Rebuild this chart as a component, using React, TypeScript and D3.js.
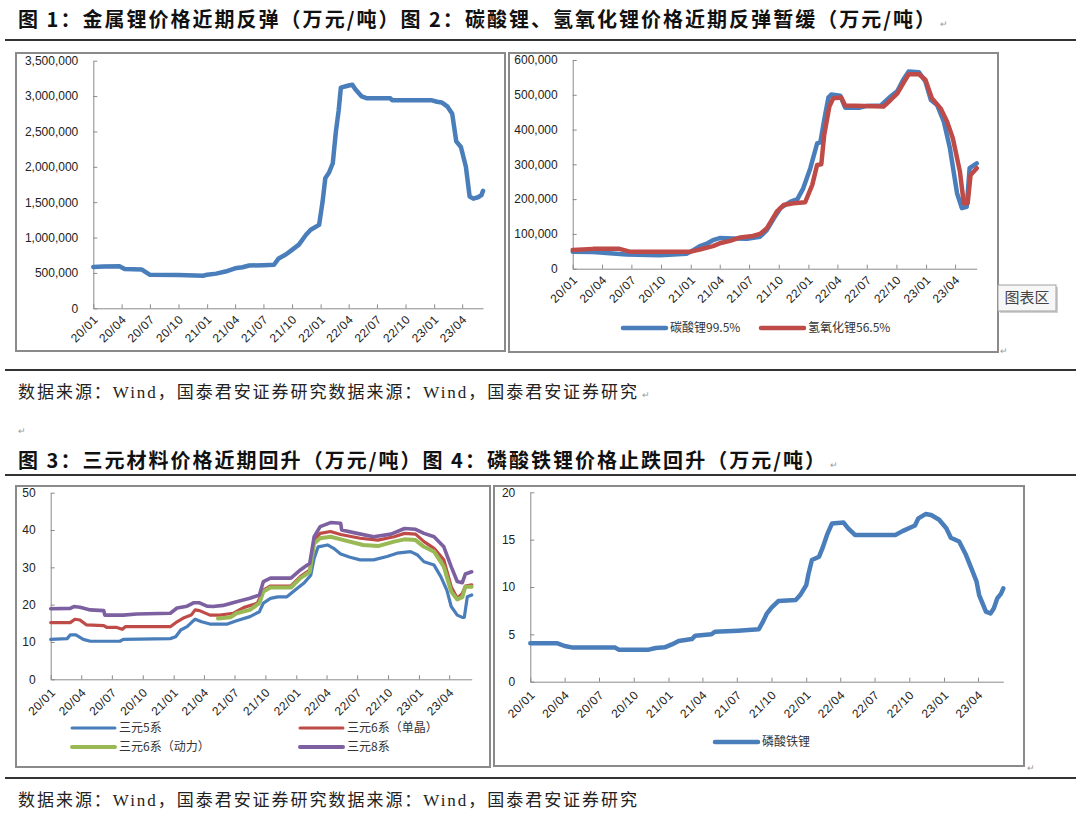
import { useEffect, useRef } from "react";
import * as d3 from "d3";

// shared time span of all four panels
const START = "2020-01-01";
const END = "2023-06-07";

// 图1 金属锂 (元/吨)
const LI_METAL: [string, number][] = [
  ["2020-01-01", 585000], ["2020-02-02", 590000], ["2020-03-25", 595000], ["2020-04-11", 555000],
  ["2020-06-04", 550000], ["2020-06-30", 475000], ["2020-10-01", 470000], ["2020-12-19", 460000],
  ["2021-01-01", 475000], ["2021-01-30", 490000], ["2021-03-01", 520000], ["2021-04-01", 565000],
  ["2021-04-25", 580000], ["2021-05-16", 605000], ["2021-07-01", 610000], ["2021-08-04", 615000],
  ["2021-08-19", 705000], ["2021-09-11", 760000], ["2021-10-02", 830000], ["2021-10-23", 900000],
  ["2021-11-15", 1040000], ["2021-11-30", 1110000], ["2021-12-27", 1180000], ["2022-01-07", 1500000],
  ["2022-01-16", 1840000], ["2022-01-28", 1920000], ["2022-02-09", 2050000], ["2022-02-19", 2500000],
  ["2022-02-28", 2800000], ["2022-03-07", 3120000], ["2022-04-01", 3150000], ["2022-04-13", 3160000],
  ["2022-04-22", 3100000], ["2022-05-13", 2995000], ["2022-05-28", 2970000], ["2022-08-13", 2970000],
  ["2022-08-19", 2940000], ["2022-12-25", 2940000], ["2023-01-10", 2920000], ["2023-01-25", 2910000],
  ["2023-02-13", 2850000], ["2023-02-28", 2750000], ["2023-03-13", 2360000], ["2023-03-28", 2280000],
  ["2023-04-13", 2000000], ["2023-04-25", 1580000], ["2023-05-07", 1550000], ["2023-05-22", 1570000],
  ["2023-06-02", 1600000], ["2023-06-07", 1660000],
];

// 图2 碳酸锂99.5% / 氢氧化锂56.5% (元/吨)
const LI_CARBONATE: [string, number][] = [
  ["2020-01-01", 49000], ["2020-03-04", 48000], ["2020-06-16", 41000], ["2020-09-28", 39000],
  ["2020-12-19", 43000], ["2021-01-10", 54000], ["2021-02-01", 66000], ["2021-02-22", 73000],
  ["2021-03-11", 82000], ["2021-04-01", 88000], ["2021-05-13", 87000], ["2021-06-25", 86000],
  ["2021-08-04", 92000], ["2021-08-25", 111000], ["2021-09-16", 145000], ["2021-10-07", 175000],
  ["2021-11-07", 193000], ["2021-11-28", 200000], ["2021-12-16", 231000], ["2022-01-07", 289000],
  ["2022-01-28", 360000], ["2022-02-07", 363000], ["2022-02-19", 428000], ["2022-03-04", 492000],
  ["2022-03-13", 501000], ["2022-04-10", 497000], ["2022-04-25", 463000], ["2022-06-10", 463000],
  ["2022-07-01", 468000], ["2022-08-13", 469000], ["2022-09-13", 495000], ["2022-10-04", 511000],
  ["2022-10-22", 543000], ["2022-11-08", 567000], ["2022-12-10", 565000], ["2022-12-30", 538000],
  ["2023-01-16", 485000], ["2023-02-04", 471000], ["2023-02-25", 423000], ["2023-03-16", 346000],
  ["2023-04-07", 217000], ["2023-04-22", 174000], ["2023-05-07", 178000], ["2023-05-16", 289000],
  ["2023-06-07", 303000],
];
const LI_HYDROXIDE: [string, number][] = [
  ["2020-01-01", 54000], ["2020-03-04", 57000], ["2020-05-25", 57000], ["2020-06-26", 49000],
  ["2021-01-01", 49000], ["2021-02-01", 56000], ["2021-03-11", 65000], ["2021-04-01", 73000],
  ["2021-05-03", 80000], ["2021-06-04", 90000], ["2021-07-13", 94000], ["2021-08-04", 100000],
  ["2021-08-25", 116000], ["2021-09-25", 164000], ["2021-10-16", 183000], ["2021-11-16", 188000],
  ["2021-12-22", 191000], ["2022-01-13", 241000], ["2022-01-28", 298000], ["2022-02-10", 300000],
  ["2022-02-19", 384000], ["2022-03-07", 466000], ["2022-03-19", 490000], ["2022-04-13", 492000],
  ["2022-04-25", 469000], ["2022-08-22", 466000], ["2022-09-13", 485000], ["2022-10-04", 504000],
  ["2022-10-22", 533000], ["2022-11-08", 559000], ["2022-12-10", 559000], ["2022-12-30", 543000],
  ["2023-01-19", 490000], ["2023-02-15", 461000], ["2023-03-07", 423000], ["2023-03-25", 375000],
  ["2023-04-16", 279000], ["2023-04-28", 188000], ["2023-05-10", 188000], ["2023-05-19", 269000],
  ["2023-06-07", 289000],
];

// 图3 三元材料 (万元/吨)
const NCM5: [string, number][] = [
  ["2020-01-01", 10.7], ["2020-02-19", 10.9], ["2020-02-28", 11.9], ["2020-03-16", 11.9],
  ["2020-04-07", 10.7], ["2020-04-28", 10.2], ["2020-07-25", 10.2], ["2020-08-04", 10.7],
  ["2020-12-22", 10.9], ["2021-01-07", 11.4], ["2021-01-22", 13.2], ["2021-02-10", 14.1],
  ["2021-02-25", 15.4], ["2021-03-06", 16.1], ["2021-03-25", 15.4], ["2021-04-19", 14.8],
  ["2021-06-10", 14.8], ["2021-07-07", 15.7], ["2021-08-16", 16.8], ["2021-09-13", 18.1],
  ["2021-09-25", 20.4], ["2021-10-16", 21.7], ["2021-11-07", 22.1], ["2021-12-04", 22.1],
  ["2022-01-04", 24.4], ["2022-01-25", 25.9], ["2022-02-13", 27.9], ["2022-02-23", 32.4],
  ["2022-03-07", 35.5], ["2022-04-04", 36.0], ["2022-04-22", 35.1], ["2022-05-13", 33.6],
  ["2022-06-10", 32.7], ["2022-07-10", 32.0], ["2022-08-19", 32.0], ["2022-09-28", 32.9],
  ["2022-10-28", 33.8], ["2022-12-07", 34.2], ["2022-12-28", 33.3], ["2023-01-16", 31.5],
  ["2023-02-15", 30.6], ["2023-03-07", 27.5], ["2023-03-25", 23.9], ["2023-04-07", 19.5],
  ["2023-04-25", 17.2], ["2023-05-10", 16.6], ["2023-05-16", 16.6], ["2023-05-25", 22.1],
  ["2023-06-07", 22.6],
];
const NCM6_SINGLE: [string, number][] = [
  ["2020-01-01", 15.2], ["2020-02-28", 15.2], ["2020-03-13", 16.1], ["2020-03-28", 15.9],
  ["2020-04-16", 14.6], ["2020-06-07", 14.4], ["2020-06-16", 13.9], ["2020-07-16", 13.9],
  ["2020-08-01", 13.4], ["2020-08-10", 14.1], ["2020-12-22", 14.1], ["2021-01-11", 15.4],
  ["2021-02-01", 16.5], ["2021-02-22", 17.2], ["2021-03-06", 18.6], ["2021-03-19", 18.4],
  ["2021-04-19", 17.2], ["2021-05-19", 17.2], ["2021-06-28", 17.7], ["2021-07-28", 19.2],
  ["2021-09-07", 20.4], ["2021-09-25", 23.9], ["2021-10-16", 25.0], ["2021-12-16", 25.0],
  ["2022-01-13", 27.5], ["2022-02-10", 29.3], ["2022-02-23", 37.3], ["2022-03-13", 39.1],
  ["2022-04-13", 39.6], ["2022-05-13", 38.8], ["2022-07-10", 37.8], ["2022-09-01", 37.3],
  ["2022-10-19", 38.2], ["2022-11-19", 39.1], ["2022-12-22", 38.9], ["2023-01-16", 36.9],
  ["2023-02-15", 35.1], ["2023-03-16", 32.0], ["2023-04-07", 24.8], ["2023-04-25", 21.7],
  ["2023-05-10", 23.0], ["2023-05-19", 25.0], ["2023-06-07", 25.3],
];
const NCM6_POWER: [string, number][] = [
  ["2021-05-13", 16.3], ["2021-06-19", 16.6], ["2021-07-07", 17.7], ["2021-08-16", 18.6],
  ["2021-09-13", 20.4], ["2021-09-25", 23.5], ["2021-10-16", 24.6], ["2021-12-16", 24.6],
  ["2022-01-13", 27.1], ["2022-02-10", 28.8], ["2022-02-23", 36.4], ["2022-03-13", 37.8],
  ["2022-04-13", 38.2], ["2022-05-22", 37.3], ["2022-07-19", 36.0], ["2022-09-01", 35.7],
  ["2022-10-19", 36.9], ["2022-11-19", 37.5], ["2022-12-22", 37.3], ["2023-01-16", 35.5],
  ["2023-02-15", 34.2], ["2023-03-16", 30.2], ["2023-04-07", 23.5], ["2023-04-25", 21.4],
  ["2023-05-10", 22.0], ["2023-05-19", 24.8], ["2023-06-07", 24.8],
];
const NCM8: [string, number][] = [
  ["2020-01-01", 18.9], ["2020-02-28", 19.0], ["2020-03-10", 19.5], ["2020-03-28", 19.3],
  ["2020-04-28", 18.6], ["2020-06-07", 18.4], ["2020-06-10", 17.2], ["2020-08-04", 17.2],
  ["2020-09-13", 17.5], ["2020-12-22", 17.7], ["2021-01-11", 19.1], ["2021-02-10", 19.6],
  ["2021-03-01", 20.5], ["2021-03-19", 20.5], ["2021-04-10", 19.6], ["2021-04-28", 19.5],
  ["2021-05-28", 19.8], ["2021-07-07", 20.8], ["2021-08-16", 21.7], ["2021-09-13", 22.6],
  ["2021-09-25", 26.2], ["2021-10-16", 27.1], ["2021-12-16", 27.1], ["2022-01-13", 29.3],
  ["2022-02-10", 31.1], ["2022-02-23", 38.2], ["2022-03-13", 40.9], ["2022-04-13", 42.0],
  ["2022-05-13", 41.8], ["2022-05-16", 40.0], ["2022-07-01", 39.1], ["2022-08-19", 38.2],
  ["2022-10-10", 38.9], ["2022-11-19", 40.4], ["2022-12-22", 40.2], ["2023-01-16", 39.1],
  ["2023-02-15", 38.2], ["2023-03-16", 35.5], ["2023-04-07", 30.2], ["2023-04-25", 26.2],
  ["2023-05-10", 25.9], ["2023-05-19", 28.2], ["2023-06-07", 28.8],
];

// 图4 磷酸铁锂 (万元/吨)
const LFP: [string, number][] = [
  ["2020-01-01", 4.05], ["2020-03-13", 4.05], ["2020-04-01", 3.77], ["2020-04-23", 3.6],
  ["2020-08-13", 3.6], ["2020-08-22", 3.38], ["2020-11-10", 3.38], ["2020-11-28", 3.56],
  ["2020-12-22", 3.63], ["2021-01-10", 3.94], ["2021-01-28", 4.3], ["2021-03-04", 4.5],
  ["2021-03-13", 4.86], ["2021-04-25", 5.0], ["2021-05-04", 5.28], ["2021-07-04", 5.39],
  ["2021-08-28", 5.53], ["2021-09-07", 6.23], ["2021-09-19", 7.22], ["2021-10-01", 7.82],
  ["2021-10-19", 8.52], ["2021-12-04", 8.63], ["2021-12-16", 9.15], ["2022-01-01", 10.2],
  ["2022-01-07", 11.4], ["2022-01-16", 12.85], ["2022-02-04", 13.2], ["2022-02-13", 14.1],
  ["2022-02-25", 15.5], ["2022-03-10", 16.7], ["2022-04-10", 16.8], ["2022-04-22", 16.2],
  ["2022-05-10", 15.5], ["2022-08-25", 15.5], ["2022-09-13", 15.9], ["2022-10-16", 16.5],
  ["2022-10-25", 17.25], ["2022-11-13", 17.7], ["2022-11-28", 17.6], ["2022-12-19", 17.1],
  ["2023-01-07", 16.2], ["2023-01-19", 15.2], ["2023-02-10", 14.8], ["2023-02-28", 13.4],
  ["2023-03-16", 11.8], ["2023-03-28", 10.6], ["2023-04-04", 9.15], ["2023-04-22", 7.4],
  ["2023-05-04", 7.2], ["2023-05-13", 7.75], ["2023-05-22", 8.8], ["2023-06-01", 9.3],
  ["2023-06-07", 9.86],
];

const TITLE_1 = "图 1：金属锂价格近期反弹（万元/吨）图 2：碳酸锂、氢氧化锂价格近期反弹暂缓（万元/吨）";
const TITLE_2 = "图 3：三元材料价格近期回升（万元/吨）图 4：磷酸铁锂价格止跌回升（万元/吨）";
const SOURCE = "数据来源：Wind，国泰君安证券研究数据来源：Wind，国泰君安证券研究";

const BLUE = "#4a7ebb";
const RED = "#be4b48";
const GREEN = "#98b954";
const PURPLE = "#7d60a0";

const parse = d3.timeParse("%Y-%m-%d");
const tickFmt = d3.timeFormat("%y/%m");
const AXIS_FONT = "'Liberation Sans', Arial, sans-serif";
const CJK = "'Noto Sans CJK SC', sans-serif";

type Series = { data: [string, number][]; color: string; width: number };
type Legend = { label: string; color: string; width: number; x: number; y: number };

function Panel({ box, plot, yMax, yStep, yFmt, series, legend, labelDy }: {
  box: { x: number; y: number; w: number; h: number };
  plot: { x0: number; x1: number; y0: number; y1: number };
  yMax: number; yStep: number; yFmt: (v: number) => string;
  series: Series[]; legend: Legend[]; labelDy: number;
}) {
  const axisRef = useRef<SVGGElement>(null);
  const x = d3.scaleTime().domain([parse(START)!, parse(END)!]).range([plot.x0, plot.x1]);
  const y = d3.scaleLinear().domain([0, yMax]).range([plot.y1, plot.y0]);
  const line = d3.line<[string, number]>().x((d) => x(parse(d[0])!)).y((d) => y(d[1]));

  useEffect(() => {
    const g = d3.select(axisRef.current);
    g.selectAll("*").remove();

    const ya = g.append("g")
      .attr("transform", `translate(${plot.x0},0)`)
      .call(d3.axisLeft(y).tickValues(d3.range(0, yMax + 1e-9, yStep)).tickSize(-4).tickSizeOuter(0).tickPadding(15).tickFormat(yFmt as any));
    const xa = g.append("g")
      .attr("transform", `translate(0,${plot.y1})`)
      .call(d3.axisBottom(x).ticks(d3.timeMonth.every(3)).tickSize(-4).tickSizeOuter(0).tickFormat(tickFmt as any));

    g.selectAll(".domain, .tick line").attr("stroke", "#8a8a8a").attr("stroke-width", 1);
    g.selectAll("g").attr("font-family", AXIS_FONT).attr("font-size", 12);
    ya.selectAll("text").attr("fill", "#222");
    xa.attr("font-size", 13);
    xa.selectAll("text")
      .attr("fill", "#222")
      .attr("y", 0).attr("dy", 0)
      .attr("text-anchor", "end")
      .attr("letter-spacing", 0.5)
      .attr("transform", `translate(5,${labelDy}) rotate(-45)`);
  }, []);

  return (
    <g>
      <rect x={box.x} y={box.y} width={box.w} height={box.h} fill="#fff" stroke="#8a8a8a" strokeWidth={2} />
      <g ref={axisRef} />
      {series.map((s, i) => (
        <path key={i} d={line(s.data) ?? ""} fill="none" stroke={s.color} strokeWidth={s.width} strokeLinejoin="round" strokeLinecap="round" />
      ))}
      {legend.map((l, i) => (
        <g key={i}>
          <line x1={l.x} x2={l.x + 43} y1={l.y} y2={l.y} stroke={l.color} strokeWidth={l.width} strokeLinecap="round" />
          <text x={l.x + 47} y={l.y} dy="0.35em" fontSize={12} fontFamily={CJK} fill="#333">{l.label}</text>
        </g>
      ))}
    </g>
  );
}

const ret = (x: number, y: number) => (
  <text x={x} y={y} fontSize={9} fill="#999" fontFamily={CJK}>↵</text>
);

export default function App() {
  const big = (v: number) => d3.format(",")(v);
  const small = (v: number) => String(v);
  return (
    <svg width={1080} height={817} style={{ position: "absolute", left: 0, top: 0, background: "#fff" }}>
      <rect x={0} y={0} width={1080} height={817} fill="#fff" />

      <text x={18} y={27} fontSize={20} fontWeight={700} fontFamily={CJK} fill="#111" textLength={917} lengthAdjust="spacing">{TITLE_1}</text>
      {ret(940, 27)}
      <line x1={5} x2={1076} y1={40} y2={40} stroke="#333" strokeWidth={2} />

      <Panel
        box={{ x: 16, y: 53, w: 489, h: 298 }}
        plot={{ x0: 93.3, x1: 483, y0: 60.7, y1: 308.3 }}
        yMax={3500000} yStep={500000} yFmt={big} labelDy={12}
        series={[{ data: LI_METAL, color: BLUE, width: 4.5 }]}
        legend={[]}
      />
      <Panel
        box={{ x: 509, y: 53, w: 489, h: 299 }}
        plot={{ x0: 572.7, x1: 976.7, y0: 60, y1: 268.7 }}
        yMax={600000} yStep={100000} yFmt={big} labelDy={12}
        series={[
          { data: LI_CARBONATE, color: BLUE, width: 4.5 },
          { data: LI_HYDROXIDE, color: RED, width: 4.5 },
        ]}
        legend={[
          { label: "碳酸锂99.5%", color: BLUE, width: 4.5, x: 623, y: 328 },
          { label: "氢氧化锂56.5%", color: RED, width: 4.5, x: 761, y: 328 },
        ]}
      />
      {ret(1000, 354)}
      <g>
        <rect x={1000} y={287} width={58} height={26} fill="#d0d0d0" />
        <rect x={998} y={285} width={58} height={26} fill="#f7f7f7" stroke="#a0a0a0" strokeWidth={1} />
        <text x={1027} y={298} dy="0.36em" textAnchor="middle" fontSize={15} fontFamily={CJK} fill="#444">图表区</text>
      </g>

      <line x1={5} x2={1076} y1={370} y2={370} stroke="#333" strokeWidth={2} />
      <text x={18} y={398} fontSize={17} fontFamily={`'Liberation Serif', ${CJK}`} fill="#222" textLength={619} lengthAdjust="spacing">{SOURCE}</text>
      {ret(642, 398)}
      {ret(18, 434)}

      <text x={18} y={468} fontSize={20} fontWeight={700} fontFamily={CJK} fill="#111" textLength={807} lengthAdjust="spacing">{TITLE_2}</text>
      {ret(830, 468)}
      <line x1={5} x2={1076} y1={475} y2={475} stroke="#333" strokeWidth={2} />

      <Panel
        box={{ x: 16, y: 486, w: 474, h: 281 }}
        plot={{ x0: 50.7, x1: 471.7, y0: 492.7, y1: 679.3 }}
        yMax={50} yStep={10} yFmt={small} labelDy={14}
        series={[
          { data: NCM5, color: BLUE, width: 3.2 },
          { data: NCM6_SINGLE, color: RED, width: 3.2 },
          { data: NCM6_POWER, color: GREEN, width: 4 },
          { data: NCM8, color: PURPLE, width: 3.6 },
        ]}
        legend={[
          { label: "三元5系", color: BLUE, width: 3, x: 72, y: 728 },
          { label: "三元6系（单晶）", color: RED, width: 3, x: 300, y: 728 },
          { label: "三元6系（动力）", color: GREEN, width: 4, x: 72, y: 747 },
          { label: "三元8系", color: PURPLE, width: 4, x: 300, y: 747 },
        ]}
      />
      <Panel
        box={{ x: 494, y: 486, w: 530, h: 280 }}
        plot={{ x0: 530.3, x1: 1003.3, y0: 492.3, y1: 681.7 }}
        yMax={20} yStep={5} yFmt={small} labelDy={14}
        series={[{ data: LFP, color: BLUE, width: 4.5 }]}
        legend={[{ label: "磷酸铁锂", color: BLUE, width: 4.5, x: 715, y: 742 }]}
      />
      {ret(1027, 771)}

      <line x1={5} x2={1076} y1={778} y2={778} stroke="#333" strokeWidth={2} />
      <text x={18} y={806} fontSize={17} fontFamily={`'Liberation Serif', ${CJK}`} fill="#222" textLength={619} lengthAdjust="spacing">{SOURCE}</text>
    </svg>
  );
}
